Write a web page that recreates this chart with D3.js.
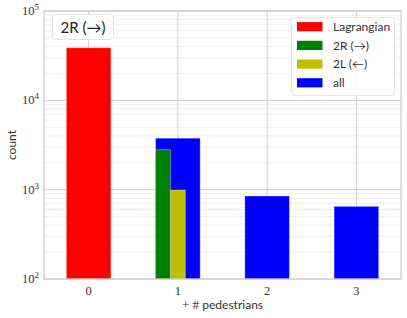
<!DOCTYPE html>
<html lang="en">
<head>
    <meta charset="UTF-8">
    <title>pedestrians count</title>
    <script src="https://d3js.org/d3.v7.min.js"></script>
    <style>
        body { margin: 0; background: #fff; }
    </style>
</head>
<body>
    <svg width="407" height="318"></svg>

    <script>
        // values
        const xTicks = [0, 1, 2, 3]
        const lagrangian = [{x: 0, v: 38800}]
        const right2R = [{x: 1, v: 2800}]
        const left2L = [{x: 1, v: 990}]
        const allPeds = [{x: 1, v: 3770}, {x: 2, v: 850}, {x: 3, v: 650}]
        const yDecades = [2, 3, 4, 5]
        const legendNames = ["Lagrangian", "2R (\u2192)", "2L (\u2190)", "all"]
        const legendColors = ["#ff0000", "#008000", "#bfbf00", "#0000ff"]

        let svg = d3.select("svg");
        const margin = {top: 11, right: 6, bottom: 39, left: 44}
        const W = 407, H = 318

        let x = d3.scaleLinear().domain([-0.5, 3.5]).range([margin.left, W - margin.right])
        let y = d3.scaleLog().domain([100, 100000]).range([H - margin.bottom, margin.top])

        const serif = "'Liberation Serif', 'DejaVu Serif', serif"
        const sans = "Lato, 'DejaVu Sans', sans-serif"

        // minor grid
        let minor = []
        yDecades.slice(0, 3).forEach(d => {
            for (let k = 2; k < 10; k++) minor.push(k * Math.pow(10, d))
        })
        svg.append("g").selectAll("line")
            .data(minor)
            .enter()
            .append("line")
            .attr("x1", margin.left).attr("x2", W - margin.right)
            .attr("y1", d => y(d)).attr("y2", d => y(d))
            .attr("stroke", "#ebebeb").attr("stroke-width", 0.8)

        // major grid
        svg.append("g").selectAll("line")
            .data(yDecades)
            .enter()
            .append("line")
            .attr("x1", margin.left).attr("x2", W - margin.right)
            .attr("y1", d => y(Math.pow(10, d))).attr("y2", d => y(Math.pow(10, d)))
            .attr("stroke", "#d0d0d0").attr("stroke-width", 1)

        svg.append("g").selectAll("line")
            .data(xTicks)
            .enter()
            .append("line")
            .attr("x1", d => x(d)).attr("x2", d => x(d))
            .attr("y1", margin.top).attr("y2", H - margin.bottom)
            .attr("stroke", "#d0d0d0").attr("stroke-width", 1)

        // bars
        const bw = 0.5
        function bars(data, color, x0, w) {
            svg.append("g").selectAll("rect")
                .data(data)
                .enter()
                .append("rect")
                .attr("x", d => x(d.x + x0))
                .attr("width", d => x(d.x + x0 + w) - x(d.x + x0))
                .attr("y", d => y(d.v))
                .attr("height", d => y(100) - y(d.v))
                .attr("fill", color)
                .attr("stroke", "#ffffff").attr("stroke-opacity", 0.35).attr("stroke-width", 1)
        }
        bars(lagrangian, legendColors[0], -bw / 2, bw)
        bars(allPeds, legendColors[3], -bw / 2, bw)
        bars(right2R, legendColors[1], -bw / 2, bw / 3)
        bars(left2L, legendColors[2], -bw / 2 + bw / 3, bw / 3)

        // frame
        svg.append("rect")
            .attr("x", margin.left).attr("y", margin.top)
            .attr("width", W - margin.right - margin.left)
            .attr("height", H - margin.bottom - margin.top)
            .attr("fill", "none").attr("stroke", "#cccccc").attr("stroke-width", 1.2)

        // x tick labels
        svg.append("g").selectAll("text")
            .data(xTicks)
            .enter()
            .append("text")
            .attr("x", d => x(d)).attr("y", H - margin.bottom + 16)
            .attr("text-anchor", "middle")
            .attr("font-family", serif).attr("font-size", 12.5).attr("fill", "#333")
            .text(d => d)

        // y tick labels 10^n
        let yl = svg.append("g").selectAll("text")
            .data(yDecades)
            .enter()
            .append("text")
            .attr("x", margin.left - 5).attr("y", d => y(Math.pow(10, d)) + 4)
            .attr("text-anchor", "end")
            .attr("font-family", serif).attr("font-size", 12.5).attr("fill", "#333")
        yl.append("tspan").text("10")
        yl.append("tspan").attr("dy", -5).attr("font-size", 9).text(d => d)

        // axis labels
        svg.append("text")
            .attr("transform", `translate(15.5,${(margin.top + H - margin.bottom) / 2}) rotate(-90)`)
            .attr("text-anchor", "middle")
            .attr("font-family", sans).attr("font-size", 12).attr("fill", "#333")
            .text("count")

        let xl = svg.append("text")
            .attr("x", (margin.left + W - margin.right) / 2).attr("y", H - 9)
            .attr("text-anchor", "middle")
            .attr("font-size", 12).attr("fill", "#333")
        xl.append("tspan").attr("font-family", serif).attr("font-size", 13).text("+ # ")
        xl.append("tspan").attr("font-family", sans).text("pedestrians")

        // title box
        svg.append("rect")
            .attr("x", 52.5).attr("y", 14.5).attr("width", 61).attr("height", 25).attr("rx", 3)
            .attr("fill", "#fff").attr("fill-opacity", 0.85).attr("stroke", "#e4e4e4")
        svg.append("text")
            .attr("x", 83).attr("y", 32.5).attr("text-anchor", "middle")
            .attr("font-family", sans).attr("font-size", 15).attr("fill", "#222")
            .text("2R (\u2192)")

        // legend
        let lg = svg.append("g")
        lg.append("rect")
            .attr("x", 291.5).attr("y", 17.5).attr("width", 103).attr("height", 78).attr("rx", 3)
            .attr("fill", "#fff").attr("fill-opacity", 0.9).attr("stroke", "#e4e4e4")
        let rows = lg.selectAll("g.row")
            .data(legendNames)
            .enter()
            .append("g")
            .attr("transform", (d, i) => `translate(0,${26.7 + i * 18.7})`)
        rows.append("rect")
            .attr("x", 297).attr("y", -4.6).attr("width", 25.5).attr("height", 9.2)
            .attr("fill", (d, i) => legendColors[i])
        rows.append("text")
            .attr("x", 333).attr("y", 4.3)
            .attr("font-family", sans).attr("font-size", 12).attr("fill", "#333")
            .text(d => d)
    </script>
</body>
</html>
